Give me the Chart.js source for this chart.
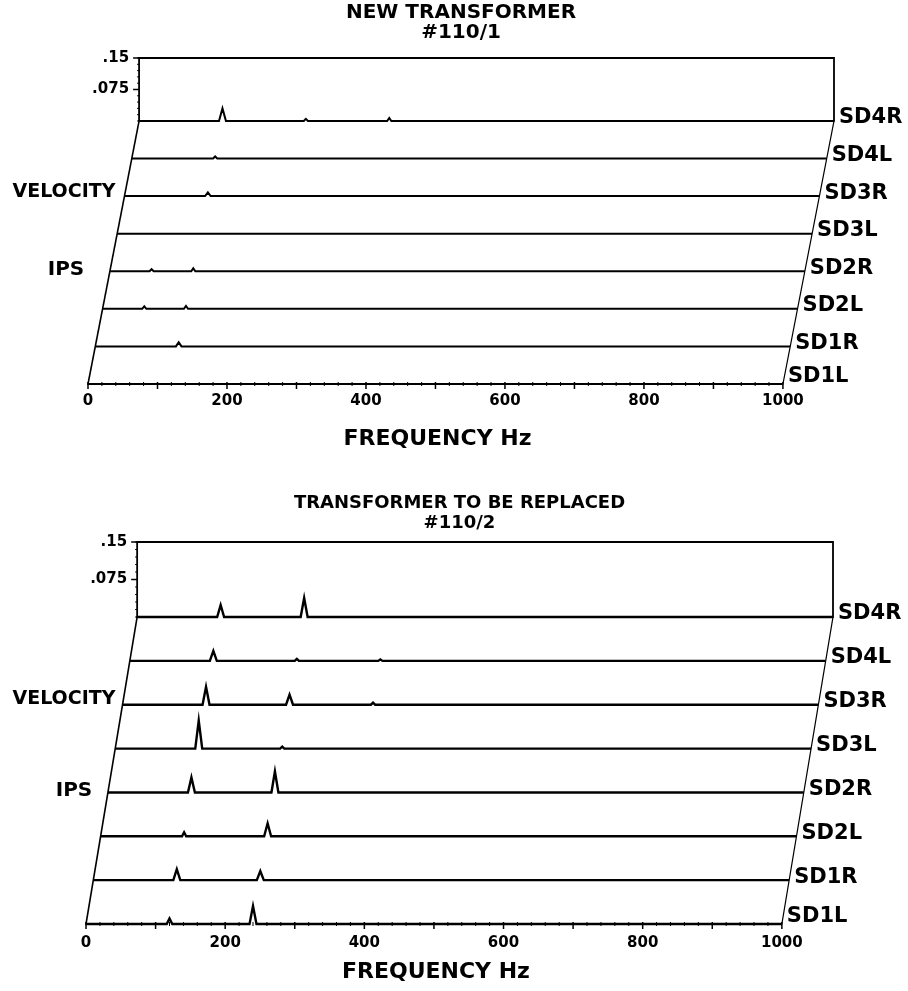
<!DOCTYPE html>
<html>
<head>
<meta charset="utf-8">
<title>Transformer vibration spectra</title>
<script src="https://cdn.jsdelivr.net/npm/chart.js@4.4.1/dist/chart.umd.min.js"></script>
<style>
    html, body { margin: 0; padding: 0; background: #fff; }
    #page { position: relative; width: 908px; height: 991px; }
    .panel { position: absolute; left: 0; width: 908px; }
</style>
</head>
<body>
<div id="page">
    <div class="panel" style="top:0;height:470px"><canvas id="newChart"></canvas></div>
    <div class="panel" style="top:470px;height:521px"><canvas id="oldChart"></canvas></div>
</div>
<script>
// ==================== data ====================
const frequencyTicks = [0, 200, 400, 600, 800, 1000];
const ipsTicks = [0.075, 0.15];
const ipsTickLabels = ['.075', '.15'];
const traceNames = ['SD1L', 'SD1R', 'SD2L', 'SD2R', 'SD3L', 'SD3R', 'SD4L', 'SD4R'];

// [Hz, IPS] points per trace, front (SD1L) to back (SD4R)
const newTransformer = [
    [[0, 0], [1000, 0]],                                                                  // SD1L
    [[0, 0], [116, 0], [120, 0.010], [124, 0], [1000, 0]],                                // SD1R
    [[0, 0], [57, 0], [60, 0.006], [63, 0], [117, 0], [120, 0.007], [123, 0], [1000, 0]], // SD2L
    [[0, 0], [57, 0], [60, 0.005], [63, 0], [117, 0], [120, 0.007], [123, 0], [1000, 0]], // SD2R
    [[0, 0], [1000, 0]],                                                                  // SD3L
    [[0, 0], [116, 0], [120, 0.009], [124, 0], [1000, 0]],                                // SD3R
    [[0, 0], [117, 0], [120, 0.005], [123, 0], [1000, 0]],                                // SD4L
    [[0, 0], [115, 0], [120, 0.030], [125, 0], [237, 0], [240, 0.005], [243, 0],
     [357, 0], [360, 0.007], [363, 0], [1000, 0]]                                         // SD4R
];

const replacedTransformer = [
    [[0, 0], [116, 0], [120, 0.011], [124, 0], [235, 0], [240, 0.036], [245, 0], [1000, 0]],  // SD1L
    [[0, 0], [115, 0], [120, 0.022], [125, 0], [235, 0], [240, 0.018], [245, 0], [1000, 0]],  // SD1R
    [[0, 0], [117, 0], [120, 0.008], [123, 0], [235, 0], [240, 0.026], [245, 0], [1000, 0]],  // SD2L
    [[0, 0], [115, 0], [120, 0.030], [125, 0], [235, 0], [240, 0.042], [245, 0], [1000, 0]],  // SD2R
    [[0, 0], [115, 0], [120, 0.056], [125, 0], [237, 0], [240, 0.004], [243, 0], [1000, 0]],  // SD3L
    [[0, 0], [115, 0], [120, 0.036], [125, 0], [235, 0], [240, 0.020], [245, 0],
     [357, 0], [360, 0.004], [363, 0], [1000, 0]],                                            // SD3R
    [[0, 0], [115, 0], [120, 0.020], [125, 0], [237, 0], [240, 0.004], [243, 0],
     [357, 0], [360, 0.003], [363, 0], [1000, 0]],                                            // SD4L
    [[0, 0], [115, 0], [120, 0.024], [125, 0], [235, 0], [240, 0.038], [245, 0], [1000, 0]]   // SD4R
];

// ==================== drawing ====================
Chart.defaults.font.family = "'DejaVu Sans', sans-serif";
Chart.defaults.font.weight = 'bold';
Chart.defaults.color = '#000';

const FONT = "'DejaVu Sans', sans-serif";
const F_MAX = frequencyTicks[frequencyTicks.length - 1];
const IPS_MAX = ipsTicks[ipsTicks.length - 1];

// waterfall frame: floor edges, back wall, axis ticks and all side labels
const waterfallPlugin = {
    id: 'waterfall',
    afterDatasetsDraw(chart, args, opts) {
        const {ctx, chartArea} = chart;
        const xs = chart.scales.x, ys = chart.scales.y;
        const n = traceNames.length - 1;
        const backF = n * opts.shiftHz, backV = n * opts.shiftIps;
        const px = (f, v) => [xs.getPixelForValue(f), ys.getPixelForValue(v)];
        const path = (pts, w) => {
            ctx.lineWidth = w;
            ctx.beginPath();
            pts.forEach((p, i) => i ? ctx.lineTo(p[0], p[1]) : ctx.moveTo(p[0], p[1]));
            ctx.stroke();
        };

        ctx.save();
        ctx.strokeStyle = '#000';
        ctx.fillStyle = '#000';
        ctx.lineCap = 'square';

        // floor edges
        path([px(0, 0), px(backF, backV)], 1.6);
        path([px(F_MAX, 0), px(F_MAX + backF, backV)], 1.2);
        // back wall
        path([px(backF, backV), px(backF, backV + IPS_MAX), px(F_MAX + backF, backV + IPS_MAX),
              px(F_MAX + backF, backV)], 1.8);

        // frequency tick marks along front baseline
        ctx.lineCap = 'butt';
        for (let f = 0; f <= F_MAX; f += 20) {
            const [x, y] = px(f, 0);
            const major = f % 100 === 0;
            path([[x, y - 2], [x, y + (major ? 5 : 2)]], major ? 1.5 : 1);
        }
        // IPS ticks on back wall
        for (let v = 0; v <= IPS_MAX + 1e-9; v += 0.015) {
            const [x, y] = px(backF, backV + v);
            path([[x - 2, y], [x, y]], 1);
        }
        ctx.font = `bold 15px ${FONT}`;
        ctx.textAlign = 'right';
        ctx.textBaseline = 'middle';
        ipsTicks.forEach((v, i) => {
            const [x, y] = px(backF, backV + v);
            path([[x - 6, y], [x, y]], 1.5);
            ctx.fillText(ipsTickLabels[i], x - 10, y);
        });

        // y axis titles
        const h = chartArea.bottom - chartArea.top;
        ctx.textAlign = 'center';
        ctx.font = `bold 19px ${FONT}`;
        ctx.fillText('VELOCITY', 64, chartArea.top + h * 0.41);
        ctx.font = `bold 20px ${FONT}`;
        ctx.fillText('IPS', opts.ipsX, chartArea.top + h * 0.65);

        // x axis title
        ctx.font = `bold 22px ${FONT}`;
        ctx.fillText('FREQUENCY Hz', px(F_MAX / 2, 0)[0] + 2, chartArea.bottom + opts.xTitleGap);

        // trace names at the right end of each trace
        ctx.textAlign = 'left';
        ctx.font = `bold 21px ${FONT}`;
        traceNames.forEach((name, i) => {
            const [x, y] = px(F_MAX + i * opts.shiftHz, i * opts.shiftIps);
            ctx.fillText(name, x + 5, y - (i === 0 ? 7 : 3));
        });
        ctx.restore();
    }
};

function buildWaterfall(canvasId, spectra, cfg) {
    const datasets = spectra.map((pts, i) => ({
        label: traceNames[i],
        data: pts.map(([f, v]) => ({x: f + i * cfg.shiftHz, y: v + i * cfg.shiftIps})),
        borderColor: '#000',
        borderWidth: cfg.lineWidth,
        pointRadius: 0,
        tension: 0,
        fill: false,
        clip: false
    }));
    const n = traceNames.length - 1;

    return new Chart(document.getElementById(canvasId), {
        type: 'line',
        data: {datasets},
        plugins: [waterfallPlugin],
        options: {
            responsive: true,
            maintainAspectRatio: false,
            animation: false,
            devicePixelRatio: 1,
            layout: {padding: cfg.padding},
            plugins: {
                legend: {display: false},
                tooltip: {enabled: false},
                title: {
                    display: true,
                    text: cfg.title,
                    color: '#000',
                    font: {size: cfg.titleSize, weight: 'bold', lineHeight: cfg.titleLineHeight},
                    padding: cfg.titlePadding
                },
                waterfall: {
                    shiftHz: cfg.shiftHz,
                    shiftIps: cfg.shiftIps,
                    ipsX: cfg.ipsX,
                    xTitleGap: cfg.xTitleGap
                }
            },
            scales: {
                x: {
                    type: 'linear',
                    min: 0,
                    max: F_MAX + n * cfg.shiftHz,
                    afterBuildTicks: (scale) => {
                        scale.ticks = frequencyTicks.map(v => ({value: v}));
                    },
                    afterFit: (scale) => { scale.height = cfg.axisHeight; },
                    grid: {display: false, drawTicks: false},
                    border: {display: false},
                    ticks: {
                        color: '#000',
                        font: {size: 15, weight: 'bold'},
                        padding: cfg.tickPadding,
                        maxRotation: 0,
                        autoSkip: false,
                        callback: (value) => String(value)
                    }
                },
                y: {
                    type: 'linear',
                    min: 0,
                    max: n * cfg.shiftIps + IPS_MAX,
                    display: false
                }
            }
        }
    });
}

buildWaterfall('newChart', newTransformer, {
    title: ['NEW TRANSFORMER', '#110/1'],
    titleSize: 20,
    titleLineHeight: 1.0,
    titlePadding: {top: 3, bottom: 15},
    padding: {left: 88, right: 74, top: 0, bottom: 0},
    axisHeight: 86,
    tickPadding: 8,
    shiftHz: 10.5,
    shiftIps: 0.0895,
    lineWidth: 2,
    ipsX: 66,
    xTitleGap: 55
});

buildWaterfall('oldChart', replacedTransformer, {
    title: ['TRANSFORMER TO BE REPLACED', '#110/2'],
    titleSize: 18,
    titleLineHeight: 1.15,
    titlePadding: {top: 22.6, bottom: 8},
    padding: {left: 86, right: 75, top: 0, bottom: 0},
    axisHeight: 67,
    tickPadding: 10,
    shiftHz: 10.5,
    shiftIps: 0.0877,
    lineWidth: 2.4,
    ipsX: 74,
    xTitleGap: 48
});
</script>
</body>
</html>
